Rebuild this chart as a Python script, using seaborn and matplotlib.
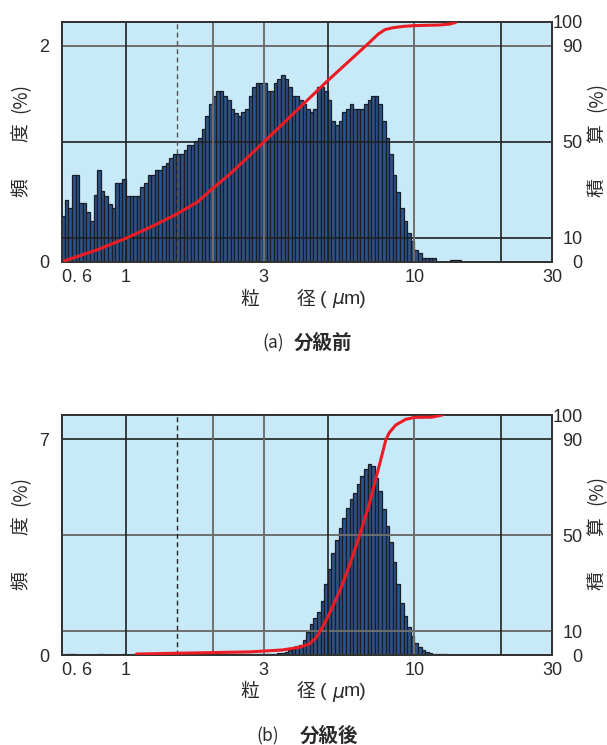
import numpy as np
import pandas as pd
import matplotlib
matplotlib.use("Agg")
import matplotlib.pyplot as plt
import seaborn as sns

# ---------------- data ----------------
BINS_PER_DECADE = 80          # bar classes per decade of particle size
FIRST_EDGE_INDEX = -98        # first class edge = 10 * 10**(-98/80) um

# frequency (%) per size class, before classification (a)
top_freq = [
    0.43, 0.57, 0.50, 0.81, 0.81, 0.55, 0.55, 0.46, 0.38, 0.62,
    0.85, 0.66, 0.61, 0.54, 0.50, 0.73, 0.73, 0.77, 0.61, 0.61,
    0.61, 0.61, 0.69, 0.73, 0.81, 0.81, 0.85, 0.85, 0.89, 0.92,
    0.96, 1.00, 1.00, 1.00, 1.04, 1.08, 1.08, 1.12, 1.15, 1.23,
    1.35, 1.46, 1.54, 1.58, 1.58, 1.54, 1.50, 1.42, 1.38, 1.35,
    1.39, 1.42, 1.54, 1.62, 1.66, 1.66, 1.66, 1.58, 1.58, 1.66,
    1.69, 1.73, 1.69, 1.62, 1.54, 1.54, 1.50, 1.46, 1.42, 1.39,
    1.42, 1.62, 1.62, 1.58, 1.50, 1.31, 1.27, 1.31, 1.39, 1.42,
    1.46, 1.42, 1.42, 1.42, 1.46, 1.50, 1.54, 1.54, 1.46, 1.31,
    1.15, 1.00, 0.81, 0.65, 0.50, 0.38, 0.27, 0.19, 0.11, 0.08,
    0.035, 0.035, 0.035, 0.035, 0.0, 0.0, 0.0, 0.0, 0.02, 0.02, 0.02,
]

# frequency (%) per size class, after classification (b)
bottom_freq = [
    0.0, 0.04, 0.04, 0.04, 0.0, 0.0, 0.0, 0.0, 0.0, 0.0,
    0.04, 0.04, 0.0, 0.0, 0.0, 0.0, 0.0, 0.03, 0.0, 0.0,
    0.0, 0.0, 0.0, 0.0, 0.0, 0.0, 0.0, 0.0, 0.0, 0.0,
    0.0, 0.0, 0.0, 0.0, 0.0, 0.0, 0.0, 0.0, 0.0, 0.0,
    0.02, 0.02, 0.02, 0.02, 0.02, 0.02, 0.02, 0.02, 0.02, 0.02,
    0.03, 0.03, 0.03, 0.03, 0.03, 0.03, 0.03, 0.03, 0.04, 0.04,
    0.05, 0.08, 0.10, 0.16, 0.19, 0.29, 0.32, 0.50, 0.73, 1.00,
    1.19, 1.40, 1.75, 2.29, 2.80, 3.30, 3.73, 4.11, 4.45, 4.77,
    5.04, 5.24, 5.53, 5.80, 6.02, 6.18, 6.12, 5.75, 5.33, 4.74,
    4.19, 3.65, 3.02, 2.29, 1.70, 1.27, 0.92, 0.62, 0.40, 0.25,
    0.16, 0.11, 0.05, 0.03, 0.03, 0.03, 0.03, 0.0, 0.0, 0.0, 0.0,
]

# cumulative curves (diameter um, cumulative %)
top_cum_d = [0.613, 0.8, 1.0, 1.25, 1.5, 1.77, 2.0, 2.3, 2.68, 3.0, 5.0,
             6.96, 7.2, 7.5, 7.9, 8.4, 9.2, 10.0, 12.2, 13.2, 13.9]
top_cum_p = [0.5, 5.2, 9.9, 15.2, 20.0, 25.0, 30.7, 36.8, 44.3, 49.9, 75.5,
             91.3, 93.0, 95.0, 96.8, 97.6, 98.2, 98.5, 98.75, 99.1, 99.8]

bot_cum_d = [1.087, 2.68, 3.49, 3.99, 4.32, 4.55, 4.80, 5.06, 5.34, 5.63,
             5.94, 6.26, 6.60, 6.96, 7.35, 7.65, 7.96, 8.17, 8.61, 9.33,
             10.0, 11.5, 12.5]
bot_cum_p = [0.4, 1.3, 2.1, 3.2, 4.6, 7.0, 11.5, 17.0, 23.0, 29.5,
             37.0, 45.0, 53.5, 62.5, 73.5, 81.5, 89.6, 92.5, 95.8, 98.2,
             99.0, 99.1, 100.0]

x_ticks = [0.6, 1, 3, 10, 30]
x_tick_labels = ["0. 6", "1", "3", "10", "30"]
x_limits = (0.6, 30)
right_ticks = [0, 10, 50, 90, 100]
top_left_ticks = [0, 2]
bottom_left_ticks = [0, 7]
median_d = 1.5

# ---------------- style ----------------
W, H = 607, 745
BG = "#c8e9f8"
BAR = "#2d5286"
BAR_EDGE = "#1a1d26"
RED = "#ec1c24"
DARK = "#202020"
GREY = "#6e6e6e"
TXT = "#2a2a2a"
CJK = ["Noto Sans CJK JP", "DejaVu Sans"]
NUM = ["Liberation Sans Narrow", "Liberation Sans", "DejaVu Sans"]

sns.set_style("white")
plt.rcParams["font.family"] = NUM

fig = plt.figure(figsize=(W / 100, H / 100), dpi=100)


def ftext(x, y, s, **kw):
    fig.text(x / W, 1 - y / H, s, **kw)


def make_panel(top_px, freq, left_ticks, cum_d, cum_p,
               vgrid_dark, vgrid_grey, hgrid_dark, hgrid_grey, dash_color):
    left, right, bottom = 62, 552, top_px + 240
    ax = fig.add_axes([left / W, 1 - bottom / H, (right - left) / W, 240 / H])
    ax.set_facecolor(BG)

    n = len(freq)
    edges = 1 + (np.arange(n + 1) + FIRST_EDGE_INDEX) / BINS_PER_DECADE
    centers = (edges[:-1] + edges[1:]) / 2
    df = pd.DataFrame({"logd": centers, "freq": freq})
    sns.histplot(data=df, x="logd", weights="freq", bins=edges.tolist(), ax=ax,
                 color=BAR, edgecolor=BAR_EDGE, linewidth=0.9, alpha=1.0,
                 stat="count", zorder=2)

    ymax = left_ticks[1] / 0.9
    ax.set_xlim(np.log10(x_limits[0]), np.log10(x_limits[1]))
    ax.set_ylim(0, ymax)
    ax.set_xlabel("")
    ax.set_ylabel("")
    ax.set_xticks(np.log10(x_ticks))
    ax.set_xticklabels(x_tick_labels)
    ax.get_xticklabels()[0].set_ha("left")
    ax.set_yticks(left_ticks)
    ax.set_yticklabels([str(t) for t in left_ticks])
    ax.tick_params(axis="both", length=0, labelsize=13, colors=TXT)
    ax.tick_params(axis="x", pad=5)
    ax.tick_params(axis="y", pad=9)

    ax2 = ax.twinx()
    ax2.set_ylim(0, 100)
    ax2.patch.set_visible(False)
    for v in hgrid_dark:
        ax2.axhline(v, color=DARK, lw=1.2, zorder=1)
    for v in hgrid_grey:
        ax2.axhline(v, color=GREY, lw=1.4, zorder=1)
    for v in vgrid_dark:
        ax2.axvline(np.log10(v), color=DARK, lw=1.2, zorder=1)
    for v in vgrid_grey:
        ax2.axvline(np.log10(v), color=GREY, lw=1.4, zorder=1)
    ax2.axvline(np.log10(median_d), color=dash_color, lw=1.0,
                ls=(0, (3.5, 2.5)), zorder=1)

    cdf = pd.DataFrame({"logd": np.log10(cum_d), "p": cum_p})
    sns.lineplot(data=cdf, x="logd", y="p", ax=ax2, color=RED, lw=2.2,
                 sort=False, estimator=None, zorder=3)
    ax2.set_xlabel("")
    ax2.set_ylabel("")
    ax2.set_yticks(right_ticks)
    ax2.set_yticklabels([str(t) for t in right_ticks])
    ax2.tick_params(axis="y", length=0, labelsize=13, colors=TXT, pad=22)
    for lab in ax2.get_yticklabels():
        lab.set_ha("right")

    for a in (ax, ax2):
        for s in a.spines.values():
            s.set_color("#333333")
            s.set_linewidth(1.4)
    return ax, ax2


make_panel(22, top_freq, top_left_ticks, top_cum_d, top_cum_p,
           vgrid_dark=[1, 5, 20], vgrid_grey=[2, 3, 10],
           hgrid_dark=[50, 10], hgrid_grey=[90], dash_color="#555555")
make_panel(415, bottom_freq, bottom_left_ticks, bot_cum_d, bot_cum_p,
           vgrid_dark=[1, 5, 20], vgrid_grey=[2, 3, 10],
           hgrid_dark=[90], hgrid_grey=[50, 10], dash_color="#222222")

# ---------------- labels ----------------
lab_kw = dict(family=CJK, fontsize=13.5, color=TXT,
              ha="center", va="center")
for off, caption_left, caption_right, cx1, cx2 in (
        (0, "(a)", "分級前", 273, 323),
        (393, "(b)", "分級後", 268, 329)):
    # left axis label
    ftext(21, 188 + off, "頻", rotation=90, **lab_kw)
    ftext(21, 133 + off, "度", rotation=90, **lab_kw)
    ftext(21, 98 + off, "(%)", rotation=90, **lab_kw)
    # right axis label
    ftext(597, 188 + off, "積", rotation=90, **lab_kw)
    ftext(597, 134 + off, "算", rotation=90, **lab_kw)
    ftext(597, 97 + off, "(%)", rotation=90, **lab_kw)
    # x axis label
    ftext(250, 299 + off, "粒", **lab_kw)
    ftext(305.5, 299 + off, "径", **lab_kw)
    ftext(323, 299 + off, "(", family=NUM, fontsize=14, color=TXT,
          ha="center", va="center")
    ftext(338, 299 + off, "μ", family=["DejaVu Sans"], style="italic",
          fontsize=13.5, color=TXT, ha="center", va="center")
    ftext(344, 299 + off, "m)", family=NUM, fontsize=14, color=TXT,
          ha="left", va="center")
    # caption
    ftext(cx1, 343 + off, caption_left, family=CJK, fontsize=12.5,
          color=TXT, ha="center", va="center")
    ftext(cx2, 343 + off, caption_right, family=CJK, fontsize=14,
          fontweight="bold", color=TXT, ha="center", va="center")

fig.savefig("out.png", dpi=100, facecolor="white")
